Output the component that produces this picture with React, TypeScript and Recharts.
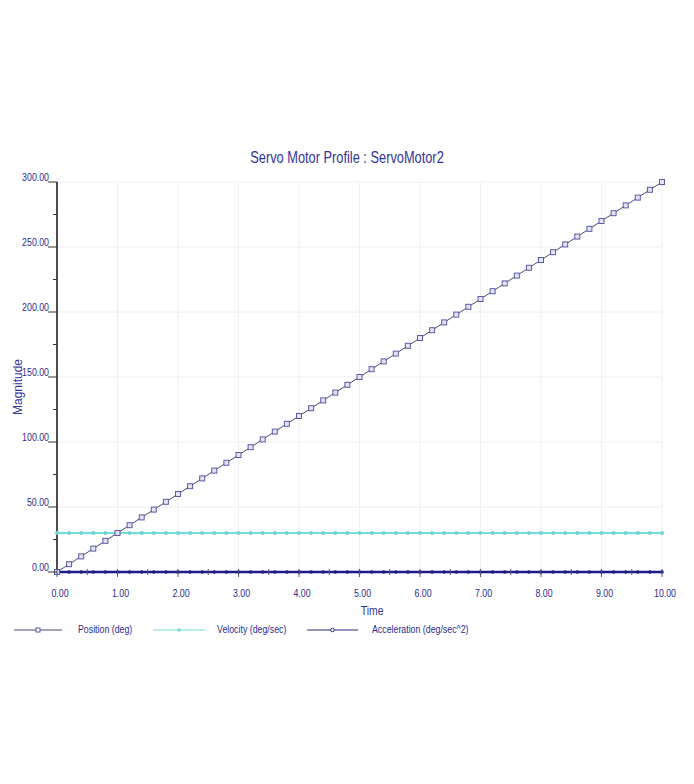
import React from "react";
import { LineChart, Line, XAxis, YAxis, ReferenceLine } from "recharts";

const TIME = [
  0, 0.2, 0.4, 0.6, 0.8, 1, 1.2, 1.4, 1.6, 1.8, 2, 2.2, 2.4, 2.6, 2.8, 3, 3.2,
  3.4, 3.6, 3.8, 4, 4.2, 4.4, 4.6, 4.8, 5, 5.2, 5.4, 5.6, 5.8, 6, 6.2, 6.4, 6.6,
  6.8, 7, 7.2, 7.4, 7.6, 7.8, 8, 8.2, 8.4, 8.6, 8.8, 9, 9.2, 9.4, 9.6, 9.8, 10,
];

const POSITION = [
  0, 6, 12, 18, 24, 30, 36, 42, 48, 54, 60, 66, 72, 78, 84, 90, 96, 102, 108,
  114, 120, 126, 132, 138, 144, 150, 156, 162, 168, 174, 180, 186, 192, 198, 204,
  210, 216, 222, 228, 234, 240, 246, 252, 258, 264, 270, 276, 282, 288, 294, 300,
];

const VELOCITY = [
  30, 30, 30, 30, 30, 30, 30, 30, 30, 30, 30, 30, 30, 30, 30, 30, 30, 30, 30,
  30, 30, 30, 30, 30, 30, 30, 30, 30, 30, 30, 30, 30, 30, 30, 30, 30, 30, 30,
  30, 30, 30, 30, 30, 30, 30, 30, 30, 30, 30, 30, 30,
];

const ACCELERATION = [
  0, 0, 0, 0, 0, 0, 0, 0, 0, 0, 0, 0, 0, 0, 0, 0, 0, 0, 0, 0, 0, 0, 0, 0, 0, 0,
  0, 0, 0, 0, 0, 0, 0, 0, 0, 0, 0, 0, 0, 0, 0, 0, 0, 0, 0, 0, 0, 0, 0, 0, 0,
];

const X_TICKS = [
  0, 0.5, 1, 1.5, 2, 2.5, 3, 3.5, 4, 4.5, 5, 5.5, 6, 6.5, 7, 7.5, 8, 8.5, 9,
  9.5, 10,
];
const Y_TICKS = [0, 25, 50, 75, 100, 125, 150, 175, 200, 225, 250, 275, 300];
const X_GRID = [1, 2, 3, 4, 5, 6, 7, 8, 9, 10];
const Y_GRID = [50, 100, 150, 200, 250, 300];

const data = TIME.map((t, i) => ({
  time: t,
  position: POSITION[i],
  velocity: VELOCITY[i],
  acceleration: ACCELERATION[i],
}));

const NAVY = "#2b2b8f";
const FONT = "'Liberation Sans', Arial, sans-serif";
const SQUEEZE = 0.8;

// narrow text, like the condensed font of the original
const NarrowText = ({ x, y, anchor, size, children }: any) => (
  <text
    transform={`translate(${x},${y}) scale(${SQUEEZE},1)`}
    textAnchor={anchor}
    fontSize={size}
    fontFamily={FONT}
    fill={NAVY}
  >
    {children}
  </text>
);

const XTick = (props: any) => {
  const { x, y, payload } = props;
  const major = Number.isInteger(payload.value);
  return (
    <g>
      <line
        x1={x}
        y1={y - 3}
        x2={x}
        y2={y + (major ? 5 : 3)}
        stroke="#555577"
        strokeWidth={1}
      />
      {major && (
        <NarrowText x={x + 3} y={y + 25} anchor="middle" size={11}>
          {payload.value.toFixed(2)}
        </NarrowText>
      )}
    </g>
  );
};

const YTick = (props: any) => {
  const { x, y, payload } = props;
  const major = payload.value % 50 === 0;
  return (
    <g>
      <line
        x1={x - (major ? 9 : 4)}
        y1={y}
        x2={x}
        y2={y}
        stroke="#333"
        strokeWidth={1}
      />
      {major && (
        <NarrowText x={x - 8} y={y - 1} anchor="end" size={11}>
          {payload.value.toFixed(2)}
        </NarrowText>
      )}
    </g>
  );
};

const SquareDot = (props: any) => {
  const { cx, cy, index } = props;
  return (
    <rect
      key={`sq-${index}`}
      x={cx - 2.5}
      y={cy - 2.5}
      width={5}
      height={5}
      fill="#e4e4f0"
      stroke="#5a5aa8"
      strokeWidth={1}
    />
  );
};

const CyanDot = (props: any) => {
  const { cx, cy, index } = props;
  return <circle key={`cy-${index}`} cx={cx} cy={cy} r={2} fill="#6fd4d4" />;
};

const SmallDot = (props: any) => {
  const { cx, cy, index } = props;
  return <circle key={`dt-${index}`} cx={cx} cy={cy} r={1.8} fill="#1c1c7c" />;
};

const LEGEND_ITEMS = [
  { label: "Position (deg)", color: "#4a4a80", x1: 14, x2: 62, tx: 78, kind: "square" },
  { label: "Velocity (deg/sec)", color: "#74dcdc", x1: 153, x2: 205, tx: 217, kind: "cyan" },
  { label: "Acceleration (deg/sec^2)", color: "#2a2a80", x1: 307, x2: 358, tx: 372, kind: "dot" },
];

const ChartLegend = () => (
  <svg
    width={694}
    height={20}
    style={{ position: "absolute", left: 0, top: 620, display: "block" }}
  >
    {LEGEND_ITEMS.map((it) => {
      const mx = (it.x1 + it.x2) / 2;
      return (
        <g key={it.label}>
          <line x1={it.x1} y1={10} x2={it.x2} y2={10} stroke={it.color} strokeWidth={1} />
          {it.kind === "square" && (
            <rect x={mx - 2} y={8} width={4} height={4} fill="#fff" stroke="#5a5aa8" />
          )}
          {it.kind === "cyan" && <circle cx={mx} cy={10} r={1.8} fill={it.color} />}
          {it.kind === "dot" && (
            <circle cx={mx} cy={10} r={1.8} fill="#fff" stroke={it.color} />
          )}
          <NarrowText x={it.tx} y={13} anchor="start" size={11}>
            {it.label}
          </NarrowText>
        </g>
      );
    })}
  </svg>
);

export default function App() {
  return (
    <div
      style={{
        position: "absolute",
        left: 0,
        top: 0,
        width: 694,
        height: 784,
        background: "#ffffff",
        overflow: "hidden",
      }}
    >
      <div
        style={{
          position: "absolute",
          left: 0,
          width: 694,
          top: 149,
          textAlign: "center",
          fontFamily: FONT,
          fontSize: 16,
          color: "#33339a",
          transform: "scaleX(0.8)",
        }}
      >
        Servo Motor Profile : ServoMotor2
      </div>
      <div
        style={{
          position: "absolute",
          left: 0,
          width: 745,
          top: 603,
          textAlign: "center",
          fontFamily: FONT,
          fontSize: 13,
          color: "#33339a",
        }}
      >
        <span style={{ display: "inline-block", transform: "scaleX(0.8)" }}>
          Time
        </span>
      </div>
      <div
        style={{
          position: "absolute",
          left: 18,
          top: 387,
          transform: "translate(-50%, -50%) rotate(-90deg)",
          fontFamily: FONT,
          fontSize: 12,
          color: "#33339a",
          whiteSpace: "nowrap",
        }}
      >
        Magnitude
      </div>
      <LineChart
        width={694}
        height={784}
        data={data}
        margin={{ top: 182, right: 32, bottom: 182, left: 7 }}
      >
        {X_GRID.map((v) => (
          <ReferenceLine key={`gx-${v}`} x={v} stroke="#eeeef3" strokeWidth={1} />
        ))}
        {Y_GRID.map((v) => (
          <ReferenceLine key={`gy-${v}`} y={v} stroke="#eeeef3" strokeWidth={1} />
        ))}
        <XAxis
          dataKey="time"
          type="number"
          domain={[0, 10]}
          ticks={X_TICKS}
          interval={0}
          height={30}
          tickSize={0}
          tickMargin={0}
          tickLine={false}
          tick={<XTick />}
          axisLine={{ stroke: "#1c1c7c", strokeWidth: 1 }}
        />
        <YAxis
          type="number"
          domain={[0, 300]}
          ticks={Y_TICKS}
          interval={0}
          width={50}
          tickSize={0}
          tickMargin={0}
          tickLine={false}
          tick={<YTick />}
          axisLine={{ stroke: "#111", strokeWidth: 1.5 }}
        />
        <Line
          dataKey="velocity"
          stroke="#74dcdc"
          strokeWidth={2}
          dot={<CyanDot />}
          isAnimationActive={false}
        />
        <Line
          dataKey="acceleration"
          stroke="#1c1c8c"
          strokeWidth={2.5}
          dot={<SmallDot />}
          isAnimationActive={false}
        />
        <Line
          dataKey="position"
          stroke="#4a4a70"
          strokeWidth={1}
          dot={<SquareDot />}
          isAnimationActive={false}
        />
      </LineChart>
      <ChartLegend />
    </div>
  );
}
